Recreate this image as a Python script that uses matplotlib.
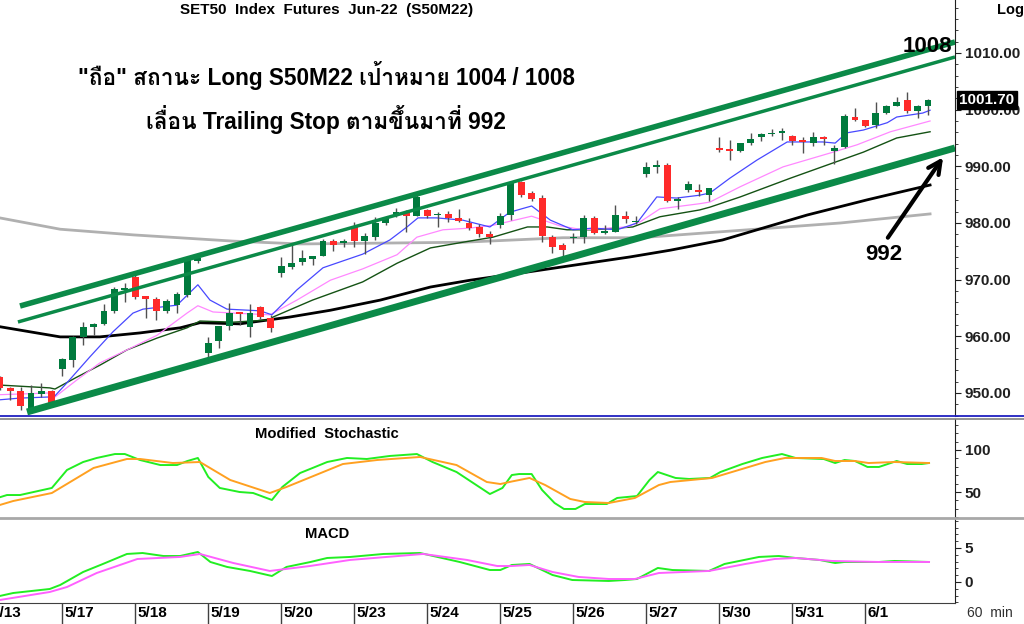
import numpy as np
import matplotlib
matplotlib.use('Agg')
import matplotlib.pyplot as plt
from matplotlib import font_manager
from matplotlib.ft2font import FT2Font
from matplotlib.ticker import MultipleLocator, FormatStrFormatter
from matplotlib.lines import Line2D

#-------------------------------------------------------------------------------
# DATA
#-------------------------------------------------------------------------------

# 60 min bars, S50M22 (open, high, low, close)
opens = [952.8, 950.9, 950.4, 947.0, 949.8, 950.4, 954.2, 955.8, 959.9, 961.7,
         962.2, 964.5, 968.1, 970.5, 967.1, 966.6, 964.5, 965.5, 967.3, 973.3,
         957.1, 959.1, 961.8, 964.3, 961.7, 965.2, 963.2, 971.2, 972.2, 973.1,
         973.6, 974.2, 976.8, 976.4, 979.3, 976.8, 977.5, 980.0, 981.6, 982.0,
         981.2, 982.3, 981.4, 981.6, 980.9, 980.0, 979.3, 978.1, 979.6, 981.4,
         987.2, 985.3, 984.4, 977.5, 976.1, 977.3, 977.5, 980.9, 978.2, 978.4,
         981.2, 980.2, 988.6, 989.9, 990.2, 983.9, 985.8, 985.8, 985.0, 993.2,
         993.1, 992.7, 994.1, 995.2, 995.7, 995.9, 995.4, 994.6, 994.1, 995.2,
         992.7, 993.4, 998.7, 998.2, 997.3, 999.4, 1000.6, 1001.7, 999.8, 1000.6]
highs = [953.0, 951.0, 951.1, 951.4, 951.8, 950.6, 956.2, 960.1, 962.6, 962.4,
         965.7, 968.7, 969.4, 971.2, 967.1, 966.9, 966.6, 967.9, 973.8, 974.4,
         959.9, 961.8, 965.9, 964.3, 965.7, 965.4, 963.8, 974.0, 976.1, 975.2,
         974.2, 977.2, 977.2, 977.2, 980.2, 978.2, 981.0, 981.1, 982.6, 982.3,
         984.9, 982.5, 982.0, 982.1, 982.5, 980.9, 979.8, 978.6, 981.8, 987.2,
         987.4, 985.6, 985.0, 977.9, 976.4, 978.2, 981.4, 981.3, 979.6, 983.2,
         982.1, 981.2, 990.8, 991.1, 990.6, 984.6, 987.4, 986.9, 986.1, 995.2,
         994.6, 994.1, 995.9, 995.9, 996.6, 996.8, 995.6, 995.2, 996.0, 995.3,
         993.8, 999.2, 1000.3, 998.2, 1001.4, 1000.8, 1002.2, 1003.1, 1000.8, 1001.9]
lows = [950.6, 948.8, 947.0, 946.5, 949.3, 947.9, 953.0, 954.6, 958.4, 960.2,
        962.0, 964.2, 966.1, 966.5, 963.2, 962.9, 964.2, 964.1, 967.0, 972.9,
        956.2, 958.0, 961.1, 962.0, 959.9, 963.1, 960.8, 970.5, 971.9, 972.6,
        972.6, 974.2, 975.1, 975.8, 975.8, 974.5, 977.0, 979.6, 981.0, 978.4,
        981.2, 980.9, 979.3, 980.2, 980.2, 978.8, 977.5, 976.3, 979.1, 980.5,
        984.6, 983.8, 976.6, 974.7, 974.0, 976.5, 976.5, 978.0, 978.0, 978.4,
        980.0, 979.8, 988.1, 988.8, 983.7, 982.5, 985.4, 984.8, 983.8, 992.5,
        991.1, 992.5, 993.8, 994.5, 995.4, 994.6, 993.8, 992.4, 993.6, 993.8,
        990.4, 993.2, 998.0, 996.9, 996.8, 999.3, 1000.6, 999.4, 998.5, 999.1]
closes = [950.9, 950.4, 947.7, 950.0, 950.4, 948.2, 956.0, 959.9, 961.7, 962.2,
          964.5, 968.4, 968.6, 966.9, 966.6, 964.5, 966.2, 967.5, 973.5, 973.8,
          958.9, 961.8, 964.1, 964.0, 964.1, 963.4, 961.5, 972.4, 972.9, 973.8,
          974.2, 976.8, 976.1, 976.8, 976.8, 977.7, 980.0, 980.9, 981.9, 981.2,
          984.6, 981.2, 981.6, 980.9, 980.4, 979.1, 978.1, 977.5, 981.2, 987.2,
          985.0, 984.2, 977.7, 975.8, 975.2, 977.5, 980.9, 978.2, 978.6, 981.4,
          980.7, 980.4, 989.9, 990.2, 983.9, 984.2, 986.8, 985.4, 986.1, 992.9,
          992.7, 994.1, 994.8, 995.7, 995.9, 996.2, 994.5, 994.3, 995.2, 994.8,
          993.2, 998.9, 998.2, 997.1, 999.4, 1000.6, 1001.4, 999.8, 1000.6, 1001.7]

# first bar of each session day (bar index) and its label
day_start = [-1, 6, 13, 20, 27, 34, 41, 48, 55, 62, 69, 76, 83]
day_label = ['5/13', '5/17', '5/18', '5/19', '5/20', '5/23', '5/24', '5/25',
             '5/26', '5/27', '5/30', '5/31', '6/1']

# moving averages (bar position, price)
ma_blue_x = [0, 1.95, 4.8, 5.1, 6.45, 8.66, 10.86, 12.78, 13.74, 17.0, 19.0, 20.16,
             21.79, 24.96, 26.1, 28.5, 31.0, 34.8, 37.4, 39.05, 40.1, 41.9, 44.4,
             47.0, 48.9, 51.0, 52.8, 54.96, 56.9, 59.2, 61.1, 63.0, 64.9, 67.1, 68.1,
             70.0, 72.6, 75.5, 78.9, 80.1, 81.2, 82.8, 85.1, 86.0, 88.5, 89.2]
ma_blue_y = [948.8, 949.1, 949.3, 949.1, 951.8, 956.4, 960.8, 964.1, 964.8, 965.5,
             969.1, 966.4, 964.8, 964.5, 963.8, 968.2, 972.1, 974.5, 977.0, 979.3,
             980.9, 980.9, 980.5, 979.3, 981.9, 983.0, 980.5, 978.8, 979.1, 978.8,
             980.0, 984.6, 984.4, 984.9, 985.3, 987.9, 991.1, 994.3, 994.3, 994.1,
             995.9, 996.4, 997.7, 998.7, 999.4, 999.9]
ma_pink_x = [0, 4.8, 5.3, 7.4, 9.6, 12.2, 15.1, 17.96, 19.0, 20.45, 22.4, 25.9,
             28.5, 31.7, 34.8, 38.1, 40.0, 42.5, 45.1, 47.3, 51.0, 53.7, 55.9, 60.1,
             61.4, 63.3, 67.1, 68.1, 71.0, 75.1, 79.9, 82.2, 85.4, 89.2]
ma_pink_y = [949.7, 950.0, 949.3, 952.3, 955.3, 957.6, 960.2, 964.1, 965.4, 964.3,
             964.1, 963.8, 966.4, 969.9, 971.9, 974.4, 977.5, 978.8, 979.1, 979.6,
             981.2, 979.5, 978.8, 979.3, 980.2, 982.5, 983.4, 983.7, 986.4, 989.9,
             992.5, 993.8, 996.1, 998.0]
ma_dkgreen_x = [0, 4.8, 5.3, 7.4, 9.6, 12.2, 15.1, 17.96, 19.2, 22.4, 25.9, 26.2,
                30.0, 34.8, 38.1, 41.3, 44.4, 47.3, 50.6, 52.5, 54.4, 56.9, 60.7,
                63.3, 67.1, 68.1, 71.0, 75.8, 79.9, 82.8, 86.0, 89.2]
ma_dkgreen_y = [951.4, 950.9, 950.7, 952.8, 954.9, 957.6, 959.7, 961.5, 962.7,
                962.5, 962.9, 963.4, 966.4, 969.6, 972.9, 975.6, 976.6, 977.5,
                979.3, 979.3, 978.8, 978.8, 979.3, 981.1, 982.3, 982.8, 984.6,
                987.9, 990.6, 992.5, 995.0, 996.1]
ma_black_x = [0, 5.8, 9.6, 13.45, 17.3, 19.2, 23.0, 27.8, 31.7, 36.5, 41.3, 45.1,
              50.8, 60.4, 64.3, 69.3, 77.4, 83.2, 89.2]
ma_black_y = [961.7, 959.9, 959.9, 960.6, 961.5, 962.4, 962.2, 963.4, 964.6, 966.4,
              968.7, 969.9, 971.4, 974.0, 975.2, 977.0, 981.4, 984.1, 986.7]
ma_gray_x = [0, 5.8, 12.8, 22.4, 28.8, 44.4, 54.0, 61.4, 80.6, 89.2]
ma_gray_y = [980.9, 978.9, 977.9, 976.8, 976.3, 976.6, 977.4, 977.4, 980.0, 981.6]

# trend channel (bar position, price at each end)
chan_upper = [(1.95, 965.35), (91.59, 1011.94)]
chan_mid = [(1.75, 962.53), (91.59, 1009.29)]
chan_lower = [(2.62, 946.65), (91.59, 993.24)]

# modified stochastic
stk_x = [0, 0.7, 1.95, 5.0, 6.45, 8.0, 9.3, 11.05, 12.0, 13.45, 15.4, 17.0, 18.0,
         19.0, 20.0, 21.1, 23.0, 24.3, 26.1, 27.1, 28.8, 30.0, 31.4, 33.3, 35.2,
         37.4, 40.0, 41.5, 43.8, 47.0, 48.2, 49.1, 49.8, 51.0, 52.0, 53.2, 54.1,
         55.2, 56.1, 58.2, 59.2, 61.1, 62.3, 63.1, 64.8, 66.1, 68.1, 69.1, 71.2,
         73.1, 75.0, 76.3, 79.0, 80.1, 81.0, 82.0, 83.2, 84.3, 86.0, 87.0, 88.4, 89.1]
stk_k = [43.7, 46.4, 46.4, 54.8, 76.2, 85.7, 90.5, 95.2, 95.2, 88.1, 82.1, 82.1,
         86.9, 90.5, 67.9, 54.8, 50.0, 48.8, 40.5, 56.0, 72.6, 78.6, 85.7, 90.5,
         89.3, 92.9, 95.2, 85.7, 73.8, 47.6, 54.8, 70.2, 71.4, 71.4, 52.4, 36.9,
         29.8, 29.8, 35.7, 35.7, 42.9, 45.2, 64.3, 73.8, 66.7, 65.5, 66.7, 73.8,
         83.3, 90.5, 95.2, 90.5, 89.3, 84.5, 88.1, 86.9, 79.8, 79.8, 86.9, 83.3,
         83.3, 84.5]
std_x = [0, 1.3, 5.0, 9.0, 12.2, 13.45, 16.6, 19.2, 22.1, 25.9, 27.5, 32.9, 36.2,
         40.3, 43.8, 46.7, 48.0, 49.1, 50.8, 52.3, 54.7, 56.1, 58.4, 60.9, 63.2,
         64.3, 68.3, 71.5, 73.4, 75.3, 78.8, 80.1, 82.0, 83.3, 85.8, 89.1]
std_d = [34.5, 39.3, 48.8, 78.6, 89.3, 89.3, 84.5, 85.7, 64.3, 48.8, 56.0, 83.3,
         88.1, 91.7, 82.1, 61.9, 59.5, 62.5, 66.7, 58.3, 41.7, 38.1, 36.9, 42.9,
         58.3, 61.9, 66.7, 78.6, 85.7, 90.5, 90.5, 86.9, 86.9, 84.5, 85.7, 84.5]

# MACD
macd_x = [0, 1.3, 4.8, 5.8, 8.0, 9.9, 12.2, 13.7, 15.7, 17.3, 19.0, 20.2, 21.8,
          24.0, 26.1, 27.5, 29.8, 31.4, 33.6, 36.8, 40.3, 44.1, 47.0, 48.0, 49.1,
          50.8, 53.0, 54.9, 58.4, 59.95, 61.1, 63.1, 64.5, 68.0, 69.5, 72.8, 74.7,
          76.3, 78.6, 80.1, 81.0, 84.3, 85.8, 89.1]
macd_v = [-2.06, -1.62, -1.03, -0.44, 1.47, 2.65, 4.12, 4.26, 3.82, 3.82, 4.41,
          2.94, 2.21, 1.62, 0.88, 2.21, 2.94, 3.53, 3.68, 4.12, 4.26, 2.94, 1.76,
          1.76, 2.5, 2.65, 1.03, 0.29, 0.15, 0.29, 0.44, 2.06, 1.76, 1.62, 2.65,
          3.68, 3.82, 3.53, 3.24, 2.79, 2.94, 2.94, 3.09, 2.94]
sig_x = [0, 4.8, 6.45, 9.3, 13.2, 17.3, 19.2, 22.4, 25.9, 29.75, 33.6, 40.6, 44.8,
         47.7, 49.1, 50.8, 53.0, 55.5, 58.4, 60.9, 63.2, 68.0, 71.5, 74.3, 76.3,
         79.8, 84.3, 89.1]
sig_v = [-2.65, -1.47, -0.74, 1.32, 3.38, 3.68, 4.12, 2.79, 1.62, 2.35, 3.24, 4.12,
         3.24, 2.35, 2.35, 2.5, 1.47, 0.74, 0.44, 0.44, 1.32, 1.62, 2.65, 3.38,
         3.53, 3.09, 2.94, 2.94]

last_price = 1001.70
target_label = ('1008', 88.9, 1011.1)
stop_label = ('992', 84.8, 974.5)
stop_arrow = [(85.0, 977.0), (90.6, 992.0)]

title = 'SET50  Index  Futures  Jun-22  (S50M22)'
note_1 = '"ถือ" สถานะ Long S50M22 เป้าหมาย 1004 / 1008'
note_2 = 'เลื่อน Trailing Stop ตามขึ้นมาที่ 992'

#-------------------------------------------------------------------------------
# FONTS
#-------------------------------------------------------------------------------

def find_font_with(ch):
    for f in font_manager.fontManager.ttflist:
        try:
            ft = FT2Font(f.fname)
            if ft.get_char_index(ord(ch)):
                return f.name
        except Exception:
            pass
    return None

thai = find_font_with('ถ')
fams = ['Liberation Sans'] + ([thai] if thai else []) + ['DejaVu Sans']
plt.rcParams['font.family'] = fams

#-------------------------------------------------------------------------------
# PLOT
#-------------------------------------------------------------------------------

W, H = 1024, 624
fig = plt.figure(figsize=(W / 100, H / 100), dpi=100)

def box(top, bot, right=955):
    return [0, 1 - bot / H, right / W, (bot - top) / H]

ax = fig.add_axes(box(0, 416))
ax_st = fig.add_axes(box(419, 518))
ax_md = fig.add_axes(box(519, 603))

xlim = (0.03, 91.59)
for a in (ax, ax_st, ax_md):
    a.set_facecolor('none')
    for s in ('top', 'left', 'bottom'):
        a.spines[s].set_visible(False)
    a.spines['right'].set_color('#202020')
    a.yaxis.tick_right()
    a.tick_params(axis='y', which='both', direction='out', colors='#202020',
                  labelsize=11, pad=3)
    a.tick_params(axis='y', which='major', length=4)
    a.tick_params(axis='y', which='minor', length=2)
    a.tick_params(axis='x', which='both', bottom=False, labelbottom=False)

# --- price panel
ax.set_ylim(945.94, 1019.35)
ax.yaxis.set_major_locator(MultipleLocator(10))
ax.yaxis.set_minor_locator(MultipleLocator(2))
ax.yaxis.set_major_formatter(FormatStrFormatter('%.2f'))

ax.plot(ma_gray_x, ma_gray_y, color='#b0b0b0', lw=2, zorder=2)
ax.plot(ma_black_x, ma_black_y, color='black', lw=2, zorder=2)
ax.plot(ma_dkgreen_x, ma_dkgreen_y, color='#145214', lw=1, zorder=2)
ax.plot(ma_pink_x, ma_pink_y, color='#ff88ff', lw=0.9, zorder=2)
ax.plot(ma_blue_x, ma_blue_y, color='#4848ff', lw=0.9, zorder=2)

idx = np.arange(len(closes))
o = np.array(opens); c = np.array(closes)
up = c >= o
col = np.where(up, '#007a3d', '#ff2a2a')
ax.vlines(idx, lows, highs, color='#505050', lw=1, zorder=3)
body_lo = np.minimum(o, c)
body_h = np.maximum(np.abs(c - o), 0.2)
ax.bar(idx, body_h, bottom=body_lo, width=0.66, color=col, lw=0, zorder=3)

for (x0, y0), (x1, y1), lw in [(chan_upper[0], chan_upper[1], 4),
                               (chan_mid[0], chan_mid[1], 2.5),
                               (chan_lower[0], chan_lower[1], 5)]:
    ax.plot([x0, x1], [y0, y1], color='#0b8a48', lw=lw, zorder=4,
            solid_capstyle='butt')

ax.text(target_label[1], target_label[2], target_label[0], ha='center', va='center',
        fontsize=16, fontweight='bold', zorder=6)
ax.text(stop_label[1], stop_label[2], stop_label[0], ha='center', va='center',
        fontsize=16, fontweight='bold', zorder=6)
ax.annotate('', xy=stop_arrow[1], xytext=stop_arrow[0],
            arrowprops=dict(arrowstyle='->,head_length=0.9,head_width=0.45',
                            color='black', lw=3), zorder=6)

ax.annotate('%.2f' % last_price, xy=(1.0, last_price), xycoords=('axes fraction', 'data'),
            xytext=(3, 0), textcoords='offset points', ha='left', va='center',
            color='white', fontsize=11, fontweight='bold', annotation_clip=False,
            bbox=dict(boxstyle='square,pad=0.15', fc='black', ec='black'), zorder=10)

fig.text(327 / W, 1 - 10 / H, title, ha='center', va='center', fontsize=11,
         fontweight='bold')
fig.text(1010 / W, 1 - 10 / H, 'Log', ha='center', va='center', fontsize=10.5,
         fontweight='bold')
fig.text(326 / W, 1 - 76 / H, note_1, ha='center', va='center', fontsize=16.3,
         fontweight='bold')
fig.text(326 / W, 1 - 120 / H, note_2, ha='center', va='center', fontsize=16.3,
         fontweight='bold')

# --- stochastic panel
ax_st.set_ylim(19.05, 136.9)
ax_st.set_yticks([50, 100])
ax_st.yaxis.set_minor_locator(MultipleLocator(10))
ax_st.plot(stk_x, stk_k, color='#22ee22', lw=1.4)
ax_st.plot(std_x, std_d, color='#ffa020', lw=1.4)
fig.text(327 / W, 1 - 434 / H, 'Modified  Stochastic', ha='center', va='center',
         fontsize=10.6, fontweight='bold')

# --- MACD panel
ax_md.set_ylim(-3.09, 9.26)
ax_md.set_yticks([0, 5])
ax_md.yaxis.set_minor_locator(MultipleLocator(1))
ax_md.plot(macd_x, macd_v, color='#22ee22', lw=1.4)
ax_md.plot(sig_x, sig_v, color='#ff60ff', lw=1.4)
fig.text(327 / W, 1 - 534 / H, 'MACD', ha='center', va='center', fontsize=10.6,
         fontweight='bold')
ax_md.spines['bottom'].set_visible(True)
ax_md.spines['bottom'].set_color('#404040')

ax_md.set_xticks(day_start)
ax_md.tick_params(axis='x', which='major', bottom=True, direction='out', length=15,
                  color='#404040', width=1)
for d, lab in zip(day_start, day_label):
    ax_md.annotate(lab, xy=(d, 0), xycoords=('data', 'axes fraction'), xytext=(1.5, -7.5),
                   textcoords='offset points', ha='left', va='center', fontsize=11,
                   fontweight='bold', annotation_clip=False)

# set_xticks can widen the view, so fix the limits afterwards
for a in (ax, ax_st, ax_md):
    a.set_xlim(*xlim)

fig.text(967 / W, 1 - 613 / H, '60  min', ha='left', va='center', fontsize=10,
         color='#303030')

for a in (ax, ax_st, ax_md):
    for lab in a.get_yticklabels():
        lab.set_fontweight('bold')

# panel separators
fig.add_artist(Line2D([0, 1], [1 - 415.5 / H] * 2, color='#2020c0', lw=1.3))
fig.add_artist(Line2D([0, 1], [1 - 419 / H] * 2, color='#808080', lw=1.2))
fig.add_artist(Line2D([0, 1], [1 - 518 / H] * 2, color='#a8a8a8', lw=2))

fig.savefig('out.png', dpi=100)
